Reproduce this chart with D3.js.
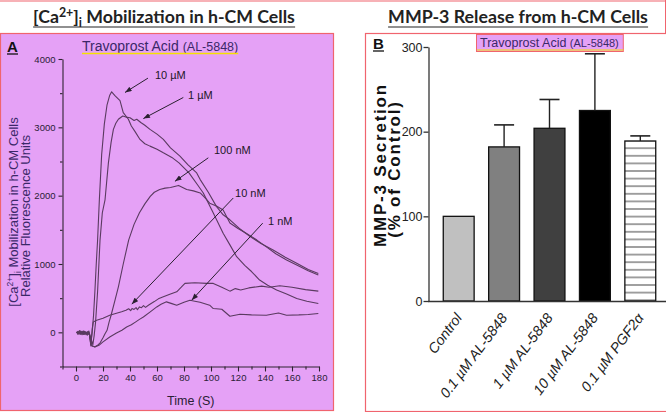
<!DOCTYPE html>
<html><head><meta charset="utf-8">
<script src="https://cdn.jsdelivr.net/npm/d3@7/dist/d3.min.js"></script>
<style>body{margin:0;background:#fff}svg{display:block}</style>
</head><body><svg id="c" width="666" height="412"></svg>
<script>
// ---------------- DATA ----------------
// Panel A: [Ca2+]i time courses (time s, RFU)
const s10uM = [[0.5,0],[1.5,-20],[2.5,25],[3.5,-10],[4.5,15],[5.5,-25],[6.5,5],[7.5,-35],[8.5,10],[9.5,-15],[10,-30],[11,-150],[12,0],[13,250],[14,600],[15,1000],[16,1350],[17.3,1940],[19,2600],[21,3050],[23,3330],[25,3470],[26.4,3520],[29,3460],[32.6,3390],[35,3216],[38.8,3118],[41,3020],[44,2930],[47.4,2823],[51,2760],[54.8,2725],[60,2680],[64.7,2627],[71,2560],[76.3,2480],[83.7,2333],[90,2160],[94.3,2039],[101.7,1745],[109,1451],[114,1280],[119,1107],[125,980],[130,890],[136,765],[142,690],[148.6,618],[156,560],[163.5,495],[171,455],[179.5,422]];
const s1uM = [[0.5,-10],[1.5,15],[2.5,-25],[3.5,20],[4.5,-15],[5.5,10],[6.5,-30],[7.5,5],[8.5,-20],[9.5,20],[10,-20],[11.5,-120],[12.5,-180],[13.5,-40],[14.5,150],[16,600],[17.8,1350],[19.5,1750],[21.5,1940],[24,2480],[26,2780],[27.7,2970],[29.5,3060],[31.4,3118],[34.6,3166],[37,3150],[40,3140],[43,3100],[45,3118],[48,3070],[51,3030],[54.8,2970],[60,2900],[64.7,2823],[70,2700],[77,2578],[83,2450],[89.4,2333],[92,2235],[98,2050],[104,1843],[109,1720],[114,1647],[121,1520],[129,1402],[137,1300],[146,1206],[155,1100],[163.5,1010],[172,920],[179.5,860]];
const s100nM = [[0.5,10],[1.5,-15],[2.5,5],[3.5,-30],[4.5,0],[5.5,20],[6.5,-20],[7.5,-5],[8.5,-30],[9.5,0],[10,-40],[12,-200],[14,-210],[16,-190],[18,-150],[20,-80],[21.5,-20],[23,30],[24.5,150],[26,250],[29,480],[31.4,666],[35,1000],[39,1350],[43,1580],[47,1750],[51,1880],[55,1990],[58,2050],[62,2090],[66,2110],[70,2120],[73,2135],[76,2150],[79,2120],[82,2090],[87,2070],[92,2040],[96,1960],[99,1890],[104,1850],[109,1790],[114,1600],[120,1520],[126,1450],[134,1350],[141,1250],[148,1150],[156,1060],[165,970],[172,900],[179.5,840]];
const s10nM = [[0.5,5],[1.5,-30],[2.5,10],[3.5,-5],[4.5,-35],[5.5,0],[6.5,15],[7.5,-20],[8.5,0],[9.5,-25],[10,-30],[11,-200],[12,50],[12.8,152],[15.3,176],[20,205],[25,250],[30,280],[33.8,300],[37,322],[39,345],[40.5,318],[41.5,350],[43,335],[44.5,362],[45.5,330],[47,372],[48.5,360],[50,390],[51.5,365],[53.6,397],[58,450],[61,490],[64.7,520],[70,560],[74.6,593],[78,660],[80.7,716],[88,725],[96.8,716],[101.7,716],[108,660],[114,603],[118,640],[122,620],[128,650],[137.5,676],[143,660],[151,681],[160,660],[170,625],[179.5,603]];
const s1nM = [[0.5,-5],[1.5,10],[2.5,-20],[3.5,15],[4.5,-10],[5.5,-30],[6.5,10],[7.5,-15],[8.5,-40],[9.5,-10],[10,-40],[11,-180],[12,-200],[14,-216],[17,-190],[20,-140],[25,-69],[30,-10],[34,30],[37.5,78],[41,110],[44,150],[47,190],[49.9,225],[55,300],[59.8,372],[63,410],[67,446],[71,420],[74.6,397],[80,440],[84.4,470],[88,455],[91.9,440],[99,397],[101.7,348],[108,338],[114,235],[121.5,265],[130,255],[141,250],[150,284],[156,250],[165,255],[172,262],[179.5,275]];
const curveSeries = [s10uM, s1uM, s100nM, s10nM, s1nM];
const curveLabels = ["10 µM", "1 µM", "100 nM", "10 nM", "1 nM"];
// label anchor [t, v], arrow start [t, v], arrow tip [t, v]
const labelAt   = [[58.5,3706],[83,3412],[102.2,2603],[117.8,1985],[142.2,1574]];
const arrowFrom = [[53.3,3720],[79.5,3437],[98,2554],[116.5,1966],[138.3,1598]];
const arrowTo   = [[36.3,3510],[49.9,3128],[73.3,2210],[41.3,412],[85.7,471]];
const timeTicks = [0,20,40,60,80,100,120,140,160,180];
const timeMinor = [-10,10,30,50,70,90,110,130,150,170];
const rfuTicks = [0,1000,2000,3000,4000];
const rfuMinor = [-500,500,1500,2500,3500];

// Panel B: MMP-3 secretion
const barCategories = ["Control", "0.1 µM AL-5848", "1 µM AL-5848", "10 µM AL-5848", "0.1 µM PGF2α"];
const barValues = [100, 182, 204, 225, 189];
const barErrors = [0, 26, 34, 67, 6];
const secretionTicks = [0, 100, 200, 300];

// ---------------- DRAW ----------------
const svg = d3.select("#c");
const RED = "#f0646e", PINK = "rgb(229,161,246)", INK = "#3a2868";
const SANS = "'Liberation Sans', Arial, sans-serif";
const defs = svg.append("defs");
defs.append("marker").attr("id","ah").attr("viewBox","0 0 8 6").attr("refX",8).attr("refY",3)
  .attr("markerWidth",7).attr("markerHeight",5).attr("markerUnits","userSpaceOnUse").attr("orient","auto")
  .append("path").attr("d","M0,0L8,3L0,6Z").attr("fill","#2a2030");
const pat = defs.append("pattern").attr("id","stripes").attr("patternUnits","userSpaceOnUse")
  .attr("width",8).attr("height",7.6);
pat.append("rect").attr("width",8).attr("height",7.6).attr("fill","#fff");
pat.append("line").attr("x1",0).attr("x2",8).attr("y1",3.8).attr("y2",3.8).attr("stroke","#444").attr("stroke-width",1);

// frames
svg.append("line").attr("x1",0).attr("x2",666).attr("y1",1).attr("y2",1).attr("stroke",RED).attr("stroke-width",1.2);
svg.append("line").attr("x1",665.5).attr("x2",665.5).attr("y1",0).attr("y2",34).attr("stroke",RED);
svg.append("rect").attr("x",0.5).attr("y",33.5).attr("width",333).attr("height",377).attr("fill",PINK).attr("stroke",RED).attr("stroke-width",1.2);
svg.append("rect").attr("x",365.5).attr("y",33.5).attr("width",302).attr("height",378).attr("fill","#fff").attr("stroke",RED).attr("stroke-width",1.2);

// titles, fitted to the width they have in the figure
function fitTitle(sel, target) {
  const w = sel.node().getComputedTextLength();
  const fs = parseFloat(sel.attr("font-size"));
  sel.attr("font-size", fs * target / w);
}
const t1 = svg.append("text").attr("x",164).attr("y",23).attr("text-anchor","middle")
  .attr("font-family","Lato, 'Open Sans', sans-serif").attr("font-weight",700).attr("font-size",18).attr("fill","#222");
t1.append("tspan").text("[Ca");
t1.append("tspan").attr("dy",-6).attr("font-size","0.7em").text("2+");
t1.append("tspan").attr("dy",6).text("]");
t1.append("tspan").attr("dy",4).attr("font-size","0.7em").text("i");
t1.append("tspan").attr("dy",-4).text(" Mobilization in h-CM Cells");
fitTitle(t1, 262);
let bb = t1.node().getBBox();
svg.append("line").attr("x1",bb.x).attr("x2",bb.x+bb.width).attr("y1",27).attr("y2",27).attr("stroke","#222").attr("stroke-width",1.2);
const t2 = svg.append("text").attr("x",518).attr("y",23).attr("text-anchor","middle")
  .attr("font-family","Lato, 'Open Sans', sans-serif").attr("font-weight",700).attr("font-size",18).attr("fill","#222")
  .text("MMP-3 Release from h-CM Cells");
fitTitle(t2, 260);
bb = t2.node().getBBox();
svg.append("line").attr("x1",bb.x).attr("x2",bb.x+bb.width).attr("y1",27).attr("y2",27).attr("stroke","#222").attr("stroke-width",1.2);

// panel letters
[["A",7,52],["B",373,49]].forEach(([l,x,y])=>{
  const t = svg.append("text").attr("x",x).attr("y",y).attr("font-family",SANS)
    .attr("font-weight",700).attr("font-size",15).attr("fill","#111").text(l);
  const b = t.node().getBBox();
  svg.append("line").attr("x1",b.x).attr("x2",b.x+b.width).attr("y1",y+2).attr("y2",y+2).attr("stroke","#111").attr("stroke-width",1.3);
});

// ---------- Panel A ----------
const xA = d3.scaleLinear().domain([-10,180]).range([62.5,319]);
const yA = d3.scaleLinear().domain([-500,4000]).range([366.5,59]);
const AX = "#2e2430";

// drug label A
const tr = svg.append("text").attr("x",82).attr("y",51).attr("font-family",SANS).attr("fill",INK);
tr.append("tspan").attr("font-size",14).text("Travoprost Acid ");
tr.append("tspan").attr("font-size",12.5).text("(AL-5848)");
bb = tr.node().getBBox();
svg.append("line").attr("x1",bb.x).attr("x2",bb.x+bb.width).attr("y1",53.5).attr("y2",53.5).attr("stroke","#f5e100").attr("stroke-width",1.6);

const gyA = svg.append("g").attr("transform","translate(62.5,0)");
gyA.call(d3.axisLeft(yA).tickValues(rfuTicks).tickFormat(d3.format("d")).tickSize(4).tickPadding(3).tickSizeOuter(0));
gyA.append("g").call(d3.axisLeft(yA).tickValues(rfuMinor).tickSize(2.5).tickFormat("")).select(".domain").remove();
const gxA = svg.append("g").attr("transform","translate(0,366.5)");
gxA.call(d3.axisBottom(xA).tickValues(timeTicks).tickFormat(d3.format("d")).tickSize(5).tickPadding(3).tickSizeOuter(0));
gxA.append("g").call(d3.axisBottom(xA).tickValues(timeMinor).tickSize(3).tickFormat("")).select(".domain").remove();
[gyA,gxA].forEach(g=>{
  g.selectAll("path,line").attr("stroke",AX).attr("stroke-width",1.1);
  g.selectAll("text").attr("font-family",SANS).attr("font-size",9.5).attr("fill","#2a2035");
});

svg.append("text").attr("x",xA(85)).attr("y",405).attr("text-anchor","middle")
  .attr("font-family",SANS).attr("font-size",12.5).attr("fill","#2a2035").text("Time (S)");

const yl = svg.append("g").attr("transform","translate(0,212) rotate(-90)");
const yl1 = yl.append("text").attr("x",0).attr("y",18).attr("text-anchor","middle")
  .attr("font-family",SANS).attr("font-size",13).attr("fill",INK);
yl1.append("tspan").text("[Ca");
yl1.append("tspan").attr("dy",-5).attr("font-size",8.5).text("2+");
yl1.append("tspan").attr("dy",5).text("]");
yl1.append("tspan").attr("dy",3).attr("font-size",8.5).text("i");
yl1.append("tspan").attr("dy",-3).text(" Mobilization in h-CM Cells");
yl.append("text").attr("x",-4).attr("y",29.5).attr("text-anchor","middle")
  .attr("font-family",SANS).attr("font-size",13).attr("fill",INK)
  .text("Relative Fluorescence Units");

const line = d3.line().x(d=>xA(d[0])).y(d=>yA(d[1]));
svg.append("g").selectAll("path").data(curveSeries).join("path")
  .attr("d",line).attr("fill","none").attr("stroke","#5a3a60").attr("stroke-width",1.1).attr("stroke-linejoin","round");

svg.append("g").selectAll("line").data(curveLabels).join("line")
  .attr("x1",(d,i)=>xA(arrowFrom[i][0])).attr("y1",(d,i)=>yA(arrowFrom[i][1]))
  .attr("x2",(d,i)=>xA(arrowTo[i][0])).attr("y2",(d,i)=>yA(arrowTo[i][1]))
  .attr("stroke","#2a2030").attr("stroke-width",1).attr("marker-end","url(#ah)");
svg.append("g").selectAll("text").data(curveLabels).join("text")
  .attr("x",(d,i)=>xA(labelAt[i][0])).attr("y",(d,i)=>yA(labelAt[i][1]))
  .attr("font-family",SANS).attr("font-size",11).attr("fill","#1e1628").text(d=>d);

// ---------- Panel B ----------
const xB = d3.scaleBand().domain(barCategories).range([436,663]).paddingInner(0.32).paddingOuter(0.16);
const yB = d3.scaleLinear().domain([0,300]).range([301,47]);
const fills = ["#c0c0c0","#808080","#404040","#000000","url(#stripes)"];

// drug label B
const lb = svg.append("g");
const lbt = lb.append("text").attr("x",480).attr("y",47).attr("font-family",SANS).attr("fill",INK);
lbt.append("tspan").attr("font-size",12.5).text("Travoprost Acid ");
lbt.append("tspan").attr("font-size",11).text("(AL-5848)");
bb = lbt.node().getBBox();
lb.insert("rect","text").attr("x",476.5).attr("y",34.5).attr("width",bb.width+8).attr("height",17).attr("fill",PINK).attr("stroke",RED).attr("stroke-width",1);
lb.append("line").attr("x1",477).attr("x2",476.5+bb.width+8).attr("y1",50).attr("y2",50).attr("stroke","#f5e100").attr("stroke-width",1.2);

svg.append("g").selectAll("rect").data(barValues).join("rect")
  .attr("x",(d,i)=>xB(barCategories[i])).attr("width",xB.bandwidth())
  .attr("y",d=>yB(d)).attr("height",d=>yB(0)-yB(d))
  .attr("fill",(d,i)=>fills[i]).attr("stroke","#111").attr("stroke-width",1.3);

const eb = svg.append("g").selectAll("g").data(barValues.map((v,i)=>({v,e:barErrors[i],c:barCategories[i]})).filter(d=>d.e>0)).join("g");
eb.append("line").attr("x1",d=>xB(d.c)+xB.bandwidth()/2).attr("x2",d=>xB(d.c)+xB.bandwidth()/2)
  .attr("y1",d=>yB(d.v)).attr("y2",d=>yB(d.v+d.e)).attr("stroke","#222").attr("stroke-width",1.4);
eb.append("line").attr("x1",d=>xB(d.c)+xB.bandwidth()/2-10).attr("x2",d=>xB(d.c)+xB.bandwidth()/2+10)
  .attr("y1",d=>yB(d.v+d.e)).attr("y2",d=>yB(d.v+d.e)).attr("stroke","#222").attr("stroke-width",1.6);

const gyB = svg.append("g").attr("transform","translate(428.5,0)");
gyB.call(d3.axisLeft(yB).tickValues(secretionTicks).tickSize(5).tickPadding(1).tickSizeOuter(0));
gyB.selectAll("text").attr("font-family",SANS).attr("font-size",12.5).attr("fill","#222");
gyB.selectAll("path,line").attr("stroke","#333").attr("stroke-width",1.3);
svg.append("line").attr("x1",428).attr("x2",666).attr("y1",yB(0)+0.5).attr("y2",yB(0)+0.5).attr("stroke","#333").attr("stroke-width",1.5);

svg.append("g").selectAll("text").data(barCategories).join("text")
  .attr("transform",d=>`translate(${xB(d)+xB.bandwidth()/2+4},318) rotate(-53)`)
  .attr("text-anchor","end").attr("font-family",SANS)
  .attr("font-style","italic").attr("font-size",14.3).attr("fill","#222").text(d=>d);

const ylb = svg.append("g").attr("transform","translate(0,165) rotate(-90)");
ylb.append("text").attr("x",0).attr("y",386).attr("text-anchor","middle").attr("font-family",SANS)
  .attr("font-weight",700).attr("font-size",17).attr("letter-spacing",1.8).attr("fill","#111").text("MMP-3 Secretion");
ylb.append("text").attr("x",-4).attr("y",400).attr("text-anchor","middle").attr("font-family",SANS)
  .attr("font-weight",700).attr("font-size",17).attr("letter-spacing",1.8).attr("fill","#111").text("(% of Control)");
</script></body></html>
